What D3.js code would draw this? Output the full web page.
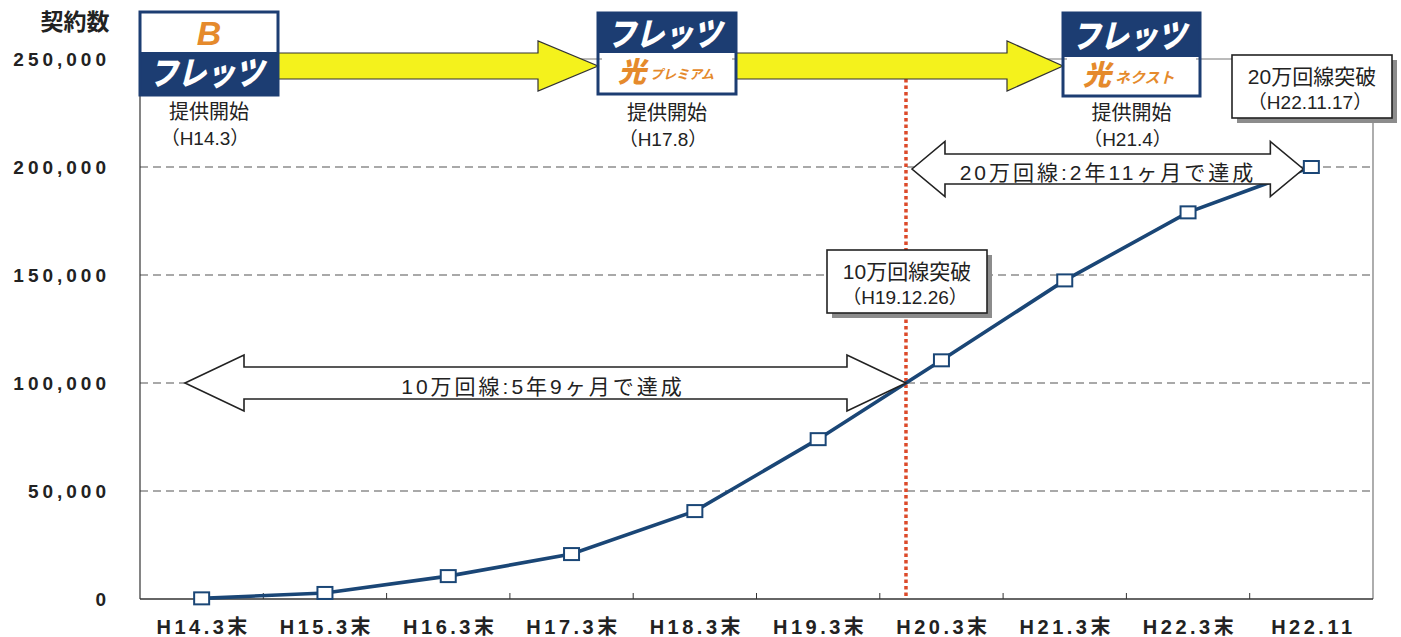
<!DOCTYPE html>
<html>
<head>
<meta charset="utf-8">
<script src="https://cdn.jsdelivr.net/npm/d3@7/dist/d3.min.js"></script>
<style>
  body { margin: 0; background: #fff; }
  svg { display: block; }
  text { font-family: "Liberation Sans", Arial, "Noto Sans CJK JP", sans-serif; fill: #222; }
</style>
</head>
<body>
<svg id="chart" width="1401" height="637"></svg>
<script>
// data
const categories = ["H14.3末", "H15.3末", "H16.3末", "H17.3末", "H18.3末", "H19.3末", "H20.3末", "H21.3末", "H22.3末", "H22.11"];
const contracts = [300, 2800, 10600, 20800, 40700, 74000, 110500, 147500, 179000, 200000];
const yTicks = [0, 50000, 100000, 150000, 200000, 250000];
const gridTicks = [50000, 100000, 150000, 200000];
const milestoneDates = ["（H14.3）", "（H17.8）", "（H21.4）"];
const breakthroughs = [
    { label: "10万回線突破", date: "（H19.12.26）", value: 100000 },
    { label: "20万回線突破", date: "（H22.11.17）", value: 200000 }
];
const spans = ["10万回線:5年9ヶ月で達成", "20万回線:2年11ヶ月で達成"];

const navy = "#1c3d72", orange = "#e58a2c", lineCol = "#1a4676";

const svg = d3.select("#chart");
const plotL = 140, plotR = 1373, plotT = 59, plotB = 599;

const x = d3.scaleBand().domain(categories).range([plotL, plotR]);
const y = d3.scaleLinear().domain([0, 250000]).range([plotB, plotT]);
const cx = d => x(d) + x.bandwidth() / 2;

// where the line crosses a value
function crossX(v) {
    for (let i = 0; i < contracts.length - 1; i++) {
        if (contracts[i] < v && contracts[i + 1] >= v) {
            let t = (v - contracts[i]) / (contracts[i + 1] - contracts[i]);
            return cx(categories[i]) + t * (cx(categories[i + 1]) - cx(categories[i]));
        }
    }
    return cx(categories[categories.length - 1]);
}

// grid
svg.append("g").selectAll("line").data(gridTicks).join("line")
    .attr("x1", plotL).attr("x2", plotR)
    .attr("y1", d => y(d)).attr("y2", d => y(d))
    .attr("stroke", "#555").attr("stroke-width", 1.2).attr("stroke-dasharray", "8,5");

// frame
svg.append("line").attr("x1", plotL).attr("x2", plotR).attr("y1", y(250000)).attr("y2", y(250000))
    .attr("stroke", "#777").attr("stroke-width", 1);
svg.append("line").attr("x1", plotR).attr("x2", plotR).attr("y1", y(250000)).attr("y2", plotB)
    .attr("stroke", "#777").attr("stroke-width", 1.2);
svg.append("line").attr("x1", plotL).attr("x2", plotL).attr("y1", y(250000)).attr("y2", plotB)
    .attr("stroke", "#333").attr("stroke-width", 1.2);
svg.append("line").attr("x1", plotL).attr("x2", plotR).attr("y1", plotB).attr("y2", plotB)
    .attr("stroke", "#333").attr("stroke-width", 1.5);

// ticks between categories
svg.append("g").selectAll("line").data(categories.slice(1)).join("line")
    .attr("x1", d => x(d)).attr("x2", d => x(d))
    .attr("y1", plotB).attr("y2", plotB - 6)
    .attr("stroke", "#333").attr("stroke-width", 1);

// y labels
svg.append("g").selectAll("text").data(yTicks).join("text")
    .attr("x", 110).attr("y", d => y(d)).attr("dy", "0.36em")
    .attr("text-anchor", "end")
    .style("font-size", "19px").style("font-weight", "bold").style("letter-spacing", "4px")
    .text(d => d3.format(",")(d));
svg.append("text").attr("x", 75).attr("y", 22).attr("dy", "0.36em").attr("text-anchor", "middle")
    .style("font-size", "23px").style("font-weight", "bold")
    .style("font-family", "'Noto Sans CJK JP', sans-serif")
    .text("契約数");

// x labels
svg.append("g").selectAll("text").data(categories).join("text")
    .attr("x", d => cx(d) + 2).attr("y", 627).attr("dy", "0.36em")
    .attr("text-anchor", "middle")
    .style("font-size", "20px").style("font-weight", "bold").style("letter-spacing", "3.5px")
    .text(d => d);

// red dotted line at 100k crossing
const x100 = crossX(100000);
svg.append("line").attr("x1", x100).attr("x2", x100).attr("y1", 79).attr("y2", plotB)
    .attr("stroke", "#dc4a2a").attr("stroke-width", 3.5).attr("stroke-dasharray", "3.5,3");

// data line
const line = d3.line().x((d, i) => cx(categories[i])).y(d => y(d));
svg.append("path").datum(contracts).attr("d", line)
    .attr("fill", "none").attr("stroke", lineCol).attr("stroke-width", 3.6);

// double arrows
function dblArrow(x1, x2, yc, bh, hh, hl) {
    return `M${x1},${yc} L${x1 + hl},${yc - hh} L${x1 + hl},${yc - bh} L${x2 - hl},${yc - bh} ` +
        `L${x2 - hl},${yc - hh} L${x2},${yc} L${x2 - hl},${yc + hh} L${x2 - hl},${yc + bh} ` +
        `L${x1 + hl},${yc + bh} L${x1 + hl},${yc + hh} Z`;
}
const x200 = cx(categories[categories.length - 1]);
const arrows = [
    { x1: 185, x2: x100, yc: y(100000), bh: 16, hh: 28, hl: 59, tx: 543, text: spans[0] },
    { x1: x100 + 6, x2: x200 - 8, yc: y(200000) + 2, bh: 15, hh: 27.5, hl: 33, tx: 1108, text: spans[1] }
];
arrows.forEach(a => {
    svg.append("path").attr("d", dblArrow(a.x1, a.x2, a.yc, a.bh, a.hh, a.hl))
        .attr("fill", "#fff").attr("stroke", "#222").attr("stroke-width", 1.6)
        .attr("stroke-linejoin", "miter");
    svg.append("text").attr("x", a.tx).attr("y", a.yc + 3).attr("dy", "0.36em")
        .attr("text-anchor", "middle").style("font-size", "21px").style("letter-spacing", "3px")
        .text(a.text);
});

// markers
svg.append("g").selectAll("rect").data(contracts).join("rect")
    .attr("x", (d, i) => cx(categories[i]) - 7.5).attr("y", d => y(d) - 6)
    .attr("width", 15).attr("height", 12)
    .attr("fill", "#fff").attr("stroke", lineCol).attr("stroke-width", 2);

// breakthrough boxes
const boxes = [
    { b: breakthroughs[0], x: 827, y: 250, w: 160, h: 63 },
    { b: breakthroughs[1], x: 1232, y: 55, w: 160, h: 63 }
];
boxes.forEach(bx => {
    svg.append("rect").attr("x", bx.x + 5).attr("y", bx.y + 5).attr("width", bx.w).attr("height", bx.h)
        .attr("fill", "#8c8c8c");
    svg.append("rect").attr("x", bx.x).attr("y", bx.y).attr("width", bx.w).attr("height", bx.h)
        .attr("fill", "#fff").attr("stroke", "#222").attr("stroke-width", 1.6);
    svg.append("text").attr("x", bx.x + bx.w / 2).attr("y", bx.y + 21).attr("dy", "0.36em")
        .attr("text-anchor", "middle").style("font-size", "21px").text(bx.b.label);
    svg.append("text").attr("x", bx.x + bx.w / 2 - 2).attr("y", bx.y + 47).attr("dy", "0.36em")
        .attr("text-anchor", "middle").style("font-size", "19px").text(bx.b.date);
});

// yellow arrows between logos
function arrowR(x1, x2, yc, bh, hh, hl) {
    return `M${x1},${yc - bh} L${x2 - hl},${yc - bh} L${x2 - hl},${yc - hh} L${x2},${yc} ` +
        `L${x2 - hl},${yc + hh} L${x2 - hl},${yc + bh} L${x1},${yc + bh} Z`;
}
[[278, 598, 60], [736, 1063, 56]].forEach(a => {
    svg.append("path").attr("d", arrowR(a[0], a[1], 66, 13, 25, a[2]))
        .attr("fill", "#f4f21c").attr("stroke", "#333").attr("stroke-width", 1.2);
});

// logos
const logos = [
    { x: 140, y: 12, w: 138, h: 83, split: 40, kind: "B", date: milestoneDates[0] },
    { x: 598, y: 13, w: 138, h: 81, split: 40, kind: "プレミアム", date: milestoneDates[1] },
    { x: 1063, y: 13, w: 137, h: 83, split: 44, kind: "ネクスト", date: milestoneDates[2] }
];
function flets(g, mx, my) {
    g.append("text").attr("x", mx).attr("y", my).attr("dy", "0.36em")
        .attr("text-anchor", "middle")
        .attr("transform", `translate(${my * Math.tan(14 * Math.PI / 180)},0) skewX(-14)`)
        .attr("textLength", 114).attr("lengthAdjust", "spacingAndGlyphs")
        .style("font-size", "33px").style("font-weight", "900")
        .style("font-family", "'Noto Sans CJK JP', sans-serif")
        .style("fill", "#fff").text("フレッツ");
}
logos.forEach(l => {
    const g = svg.append("g");
    const mx = l.x + l.w / 2;
    if (l.kind === "B") {
        g.append("rect").attr("x", l.x).attr("y", l.y).attr("width", l.w).attr("height", l.split).attr("fill", "#fff");
        g.append("rect").attr("x", l.x).attr("y", l.y + l.split).attr("width", l.w).attr("height", l.h - l.split).attr("fill", navy);
        g.append("text").attr("x", mx).attr("y", l.y + l.split / 2 + 1).attr("dy", "0.36em")
            .attr("text-anchor", "middle").style("font-size", "34px").style("font-weight", "bold")
            .style("font-style", "italic").style("fill", orange).text("B");
        flets(g, mx, l.y + l.split + (l.h - l.split) / 2);
    } else {
        g.append("rect").attr("x", l.x).attr("y", l.y).attr("width", l.w).attr("height", l.split).attr("fill", navy);
        g.append("rect").attr("x", l.x + 4).attr("y", l.y + l.split).attr("width", l.w - 8).attr("height", l.h - l.split - 4).attr("fill", "#fff");
        flets(g, mx, l.y + l.split / 2 + 1);
        const by = l.y + l.split + (l.h - l.split - 4) / 2;
        g.append("text").attr("x", l.x + 20).attr("y", by).attr("dy", "0.36em")
            .style("font-size", "28px").style("font-weight", "900").style("font-style", "italic")
            .style("font-family", "'Noto Sans CJK JP', sans-serif")
            .style("fill", orange).text("光");
        g.append("text").attr("x", l.x + 52).attr("y", by + 3).attr("dy", "0.36em")
            .style("font-size", l.kind === "ネクスト" ? "15px" : "13px").style("font-weight", "bold")
            .style("font-style", "italic")
            .style("font-family", "'Noto Sans CJK JP', sans-serif")
            .style("fill", orange).text(l.kind);
    }
    g.append("rect").attr("x", l.x).attr("y", l.y).attr("width", l.w).attr("height", l.h)
        .attr("fill", "none").attr("stroke", navy).attr("stroke-width", 3);
    g.append("text").attr("x", mx).attr("y", l.y + 100).attr("dy", "0.36em").attr("text-anchor", "middle")
        .style("font-size", "20px").text("提供開始");
    g.append("text").attr("x", mx - 4).attr("y", l.y + 126).attr("dy", "0.36em").attr("text-anchor", "middle")
        .style("font-size", "19px").text(l.date);
});
</script>
</body>
</html>
